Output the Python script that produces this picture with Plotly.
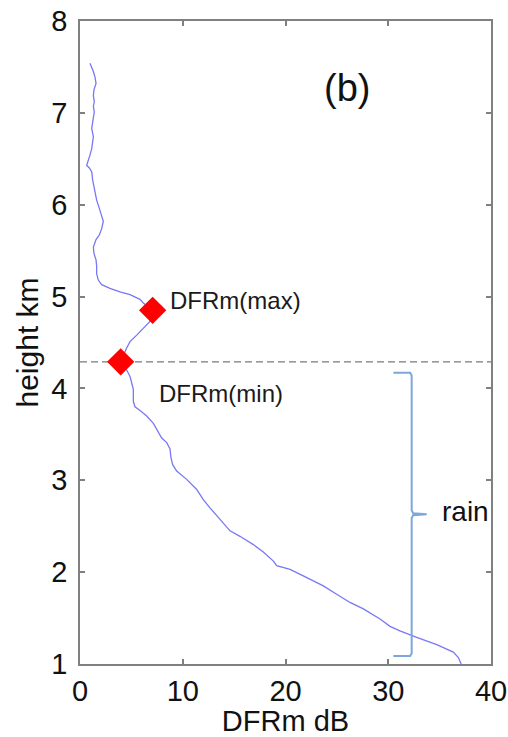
import plotly.graph_objects as go

# DFRm profile: height (km) and dual-frequency ratio (dB), top to bottom
height_km = [7.54, 7.50, 7.45, 7.39, 7.32, 7.25, 7.19, 7.12, 7.07, 7.01,
             6.94, 6.87, 6.83, 6.74, 6.68, 6.61, 6.54, 6.49, 6.43, 6.40,
             6.36, 6.27, 6.16, 6.05, 5.96, 5.89, 5.82, 5.74, 5.67, 5.62,
             5.54, 5.47, 5.40, 5.33, 5.25, 5.18, 5.13, 5.09, 5.05, 5.02,
             4.97, 4.93, 4.85, 4.73, 4.67, 4.58, 4.51, 4.44, 4.29, 4.20,
             4.13, 3.99, 3.86, 3.80, 3.76, 3.70, 3.62, 3.53, 3.46, 3.41,
             3.34, 3.24, 3.17, 3.10, 3.01, 2.90, 2.79, 2.70, 2.58, 2.45,
             2.39, 2.30, 2.22, 2.12, 2.07, 2.03, 1.96, 1.85, 1.76, 1.67,
             1.60, 1.49, 1.41, 1.36, 1.29, 1.21, 1.13, 1.07, 1.00]
dfrm_db = [0.97, 1.14, 1.30, 1.46, 1.56, 1.36, 1.30, 1.39, 1.30, 1.39,
           1.30, 1.23, 1.14, 1.30, 1.23, 1.14, 0.97, 0.81, 0.65, 0.91,
           1.14, 1.23, 1.39, 1.62, 1.88, 2.11, 2.27, 2.11, 1.88, 1.56,
           1.30, 1.36, 1.56, 1.62, 1.62, 1.78, 2.11, 2.92, 3.89, 4.87,
           5.84, 6.16, 7.07, 6.81, 6.33, 5.52, 4.87, 4.54, 3.96, 4.54,
           4.87, 5.19, 5.19, 5.35, 5.84, 6.49, 7.14, 7.62, 7.95, 8.44,
           8.76, 8.86, 9.02, 9.41, 10.38, 11.36, 12.00, 12.65, 13.63, 14.60,
           15.57, 16.87, 17.84, 18.82, 19.14, 20.44, 21.73, 23.68, 24.98, 26.28,
           27.58, 29.20, 30.17, 31.14, 32.77, 34.72, 36.33, 36.82, 37.10]

# Marked extremes of DFRm
extreme_labels = ["DFRm(max)", "DFRm(min)"]
extreme_db = [7.07, 3.96]
extreme_km = [4.85, 4.29]
label_db = [8.55, 7.50]
label_km = [4.96, 3.95]

# Melting-layer bottom reference height
melt_km = 4.29

# Rain layer extent marked by a brace
rain_top_km = 4.17
rain_bottom_km = 1.087
rain_mid_km = 2.63
brace_db = [30.5, 32.28, 33.74]   # hook end, spine, tip

panel_label = "(b)"
x_ticks = [0, 10, 20, 30, 40]
y_ticks = [1, 2, 3, 4, 5, 6, 7, 8]

FONT = "Liberation Sans, Arial, Helvetica, sans-serif"
AXIS_GREY = "#808080"

fig = go.Figure()

fig.add_trace(go.Scatter(
    x=dfrm_db, y=height_km, mode="lines",
    line=dict(color="#7878f6", width=1.3),
    showlegend=False, hoverinfo="skip"))

# dashed horizontal reference line across the panel
fig.add_trace(go.Scatter(
    x=[x_ticks[0], x_ticks[-1]], y=[melt_km, melt_km], mode="lines",
    line=dict(color="#7a7a7a", width=1.3, dash="7px,4px"),
    showlegend=False, hoverinfo="skip"))

# brace spanning the rain layer
hook, spine, tip = brace_db
brace_x = [hook, spine - 0.15, spine, spine, spine + 0.15, tip,
           spine + 0.15, spine, spine, spine - 0.15, hook]
brace_y = [rain_top_km, rain_top_km, rain_top_km - 0.03, rain_mid_km + 0.04,
           rain_mid_km + 0.01, rain_mid_km, rain_mid_km - 0.01, rain_mid_km - 0.04,
           rain_bottom_km + 0.03, rain_bottom_km, rain_bottom_km]
fig.add_trace(go.Scatter(
    x=brace_x, y=brace_y, mode="lines",
    line=dict(color="#7ea6da", width=2),
    showlegend=False, hoverinfo="skip"))

fig.add_trace(go.Scatter(
    x=extreme_db, y=extreme_km, mode="markers",
    marker=dict(symbol="diamond", size=21, color="#ff0000",
                line=dict(width=0)),
    showlegend=False, hoverinfo="skip"))

for txt, xv, yv in zip(extreme_labels, label_db, label_km):
    fig.add_annotation(x=xv, y=yv, text=txt, showarrow=False,
                       xanchor="left", yanchor="middle",
                       font=dict(family=FONT, size=24, color="#1a1a1a"))

fig.add_annotation(x=tip + 1.25, y=rain_mid_km + 0.03, text="rain",
                   showarrow=False, xanchor="left", yanchor="middle",
                   font=dict(family=FONT, size=28, color="#111111"))

fig.add_annotation(x=26.0, y=7.27, text=panel_label, showarrow=False,
                   xanchor="center", yanchor="middle",
                   font=dict(family=FONT, size=38, color="#111111"))

axis_common = dict(
    showline=True, linecolor=AXIS_GREY, linewidth=1.6,
    mirror="ticks", ticks="inside", ticklen=5, tickwidth=1.5,
    tickcolor=AXIS_GREY, showgrid=False, zeroline=False,
    automargin=False,
    tickfont=dict(family=FONT, size=29, color="#111111"),
)

fig.update_xaxes(range=[x_ticks[0], x_ticks[-1]], tickvals=x_ticks,
                 title=dict(text="DFRm dB", standoff=2,
                            font=dict(family=FONT, size=29, color="#111111")),
                 ticklabelstandoff=0, **axis_common)
fig.update_yaxes(range=[y_ticks[0], y_ticks[-1]], tickvals=y_ticks,
                 title=dict(text="height km", standoff=4,
                            font=dict(family=FONT, size=30, color="#111111")),
                 ticklabelstandoff=5, **axis_common)

fig.update_layout(
    width=508, height=737,
    margin=dict(l=80, r=17, t=21, b=73),
    paper_bgcolor="white", plot_bgcolor="white",
    font=dict(family=FONT),
)

fig.write_html("out.html")
